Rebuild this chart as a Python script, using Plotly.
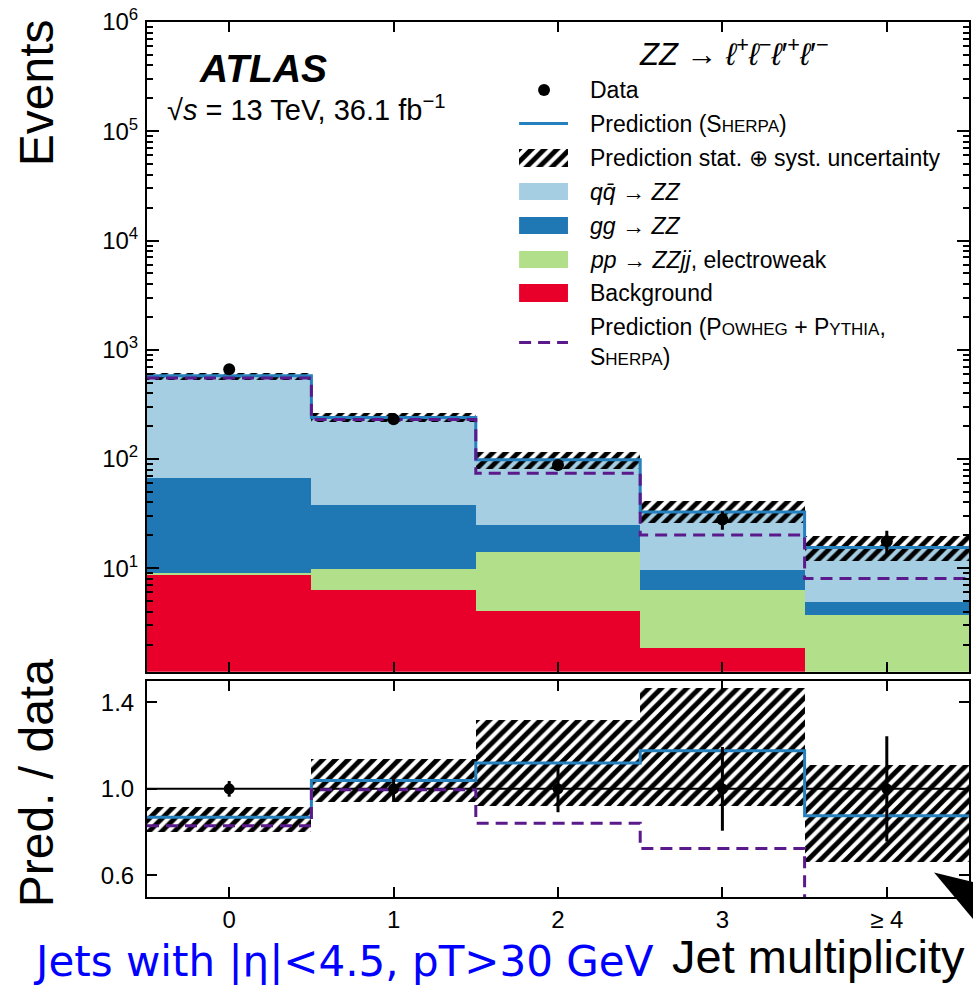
import numpy as np
import plotly.graph_objects as go

# ---------------- data ----------------
jet_n = [0, 1, 2, 3, 4]
jet_labels = ["0", "1", "2", "3", "\u2265 4"]
data_events = [664, 231, 88, 27.9, 17.7]
data_err = [24, 13, 9.5, 5.4, 4.3]
background = [8.6, 6.3, 4.1, 1.88, 0.3]
ew_zzjj = [0.46, 3.56, 10.0, 4.42, 3.41]
gg_zz = [58.6, 28.1, 10.7, 3.4, 1.19]
qq_zz = [509, 202, 73.7, 23.1, 10.6]
unc_lo = [531, 217, 81, 25.7, 11.7]
unc_hi = [609, 263, 116, 41, 19.7]
powheg = [551, 230, 74, 20.2, 8.05]

# ---------------- colours ----------------
RED = "#e8002b"
GREEN = "#b2df8a"
DBLUE = "#1f78b4"
LBLUE = "#a6cee3"
LINEBLUE = "#2580bd"
PURPLE = "#5b1a8b"

W, H = 974, 985
L, R, T, B = 147, 971, 22, 897


def px(x):
    return (x - L) / (R - L)


def py(y):
    return (B - y) / (B - T)


bkg = np.array(background, float)
ew = np.array(ew_zzjj, float)
gg = np.array(gg_zz, float)
qq = np.array(qq_zz, float)
dat = np.array(data_events, float)
derr = np.array(data_err, float)
lo = np.array(unc_lo, float)
hi = np.array(unc_hi, float)
pw = np.array(powheg, float)
total = bkg + ew + gg + qq
edges = np.arange(-0.5, 5.0, 1.0)

fig = go.Figure()

# stacked components
base = np.zeros(5)
for vals, col in [(bkg, RED), (ew, GREEN), (gg, DBLUE), (qq, LBLUE)]:
    kw = {} if base.sum() == 0 else {"base": base.copy()}
    fig.add_trace(go.Bar(x=jet_n, y=vals, width=1, marker=dict(color=col, line=dict(width=0)),
                         xaxis="x", yaxis="y", hoverinfo="skip", **kw))
    base = base + vals

hatch = dict(shape="/", fgcolor="#000000", bgcolor="rgba(0,0,0,0)", size=9, solidity=0.55,
             fgopacity=1, fillmode="replace")
fig.add_trace(go.Bar(x=jet_n, y=hi - lo, base=lo, width=1,
                     marker=dict(color="rgba(0,0,0,0)", line=dict(width=0), pattern=hatch),
                     xaxis="x", yaxis="y"))
fig.add_trace(go.Scatter(x=edges, y=np.append(total, total[-1]), mode="lines",
                         line=dict(shape="hv", color=LINEBLUE, width=3), xaxis="x", yaxis="y"))
fig.add_trace(go.Scatter(x=edges, y=np.append(pw, pw[-1]), mode="lines",
                         line=dict(shape="hv", color=PURPLE, width=3, dash="12px,7px"),
                         xaxis="x", yaxis="y"))
fig.add_trace(go.Scatter(x=jet_n, y=dat, mode="markers",
                         marker=dict(color="black", size=12),
                         error_y=dict(type="data", array=derr, color="black", thickness=3, width=0),
                         xaxis="x", yaxis="y"))

# ratio panel
fig.add_trace(go.Bar(x=jet_n, y=(hi - lo) / dat, base=lo / dat, width=1,
                     marker=dict(color="rgba(0,0,0,0)", line=dict(width=0), pattern=hatch),
                     xaxis="x2", yaxis="y2"))
r_tot = total / dat
r_pw = pw / dat
fig.add_trace(go.Scatter(x=edges, y=np.append(r_tot, r_tot[-1]), mode="lines",
                         line=dict(shape="hv", color=LINEBLUE, width=3), xaxis="x2", yaxis="y2"))
fig.add_trace(go.Scatter(x=edges, y=np.append(r_pw, r_pw[-1]), mode="lines",
                         line=dict(shape="hv", color=PURPLE, width=3, dash="12px,7px"),
                         xaxis="x2", yaxis="y2"))
fig.add_trace(go.Scatter(x=jet_n, y=dat / dat, mode="markers",
                         marker=dict(color="black", size=11),
                         error_y=dict(type="data", array=derr / dat, color="black", thickness=3, width=0),
                         xaxis="x2", yaxis="y2"))

# legend hatch swatch on its own small hidden axis
fig.add_trace(go.Bar(x=[0], y=[1], width=1,
                     marker=dict(color="rgba(0,0,0,0)", line=dict(width=0), pattern=hatch),
                     xaxis="x3", yaxis="y3"))

axis_common = dict(showline=True, linewidth=2, linecolor="black", mirror="ticks",
                   ticks="inside", tickcolor="black", tickwidth=2, showgrid=False,
                   zeroline=False, tickfont=dict(size=24, family="Liberation Sans, Arial", color="black"))

main_bottom = py(671.7)
ratio_top = py(680.7)

fig.update_layout(
    width=W, height=H,
    margin=dict(l=L, r=W - R, t=T, b=H - B),
    plot_bgcolor="white", paper_bgcolor="white",
    barmode="overlay", showlegend=False, bargap=0,
    font=dict(family="Liberation Sans, Arial", color="black"),
    xaxis=dict(domain=[0, 1], anchor="y", range=[-0.5, 4.5], tickvals=jet_n,
               showticklabels=False, ticklen=10, **axis_common),
    yaxis=dict(domain=[main_bottom, 1], anchor="x", type="log", range=[np.log10(1.13), 6],
               tickvals=[1e1, 1e2, 1e3, 1e4, 1e5, 1e6],
               ticktext=["10<sup>%d</sup>" % k for k in range(1, 7)],
               ticklen=12, ticklabelstandoff=2,
               minor=dict(ticks="inside", ticklen=6, tickcolor="black", tickwidth=1.5, dtick="D1"),
               **axis_common),
    xaxis2=dict(domain=[0, 1], anchor="y2", range=[-0.5, 4.5], matches="x", tickvals=jet_n,
                ticktext=jet_labels, ticklen=10, **axis_common),
    yaxis2=dict(domain=[0, ratio_top], anchor="x2", range=[0.5, 1.5], tickvals=[0.6, 1.0, 1.4],
                ticktext=["0.6", "1.0", "1.4"], ticklen=10, ticklabelstandoff=6, **axis_common),
    xaxis3=dict(domain=[px(520), px(569)], anchor="y3", range=[-0.5, 0.5], visible=False, fixedrange=True),
    yaxis3=dict(domain=[py(167), py(149)], anchor="x3", range=[0, 1], visible=False, fixedrange=True),
)

shapes = [
    dict(type="line", xref="x2 domain", yref="y2", x0=0, x1=1, y0=1, y1=1,
         line=dict(color="black", width=2), layer="below"),
    # legend symbols
    dict(type="circle", xref="paper", yref="paper", x0=px(539), x1=px(551), y0=py(96), y1=py(84),
         fillcolor="black", line=dict(width=0)),
    dict(type="line", xref="paper", yref="paper", x0=px(520), x1=px(569), y0=py(123.5), y1=py(123.5),
         line=dict(color=LINEBLUE, width=3)),
    dict(type="line", xref="paper", yref="paper", x0=px(520), x1=px(569), y0=py(342.5), y1=py(342.5),
         line=dict(color=PURPLE, width=3, dash="12px,7px")),
    # arrow artefact in the corner
    dict(type="path", xref="paper", yref="paper",
         path="M %f %f L %f %f L %f %f Z" % (px(936), py(872.5), px(975), py(882), px(975), py(919)),
         fillcolor="black", line=dict(width=0)),
]
for (y0, y1, col) in [(183, 200, LBLUE), (217, 234, DBLUE), (251, 268, GREEN), (284, 302, RED)]:
    shapes.append(dict(type="rect", xref="paper", yref="paper", x0=px(520), x1=px(569),
                       y0=py(y1), y1=py(y0), fillcolor=col, line=dict(width=0)))
fig.update_layout(shapes=shapes)

sc = lambda s: '<span style="font-size:17px">%s</span>' % s
ann = []


def add(text, x, y, size, xanchor="left", angle=0, family="Liberation Sans, Arial", color="black"):
    ann.append(dict(text=text, x=px(x), y=py(y), xref="paper", yref="paper", showarrow=False,
                    xanchor=xanchor, yanchor="middle", textangle=angle, align="left",
                    font=dict(size=size, family=family, color=color)))


NB = "\u00a0"
add("<b><i>ATLAS</i></b>", 197, 68, 39)
add("\u221a<i>s</i>" + NB + "=" + NB + "13 TeV, 36.1 fb<sup>\u22121</sup>", 165, 108, 29)
add("Events", 36, 93, 48, xanchor="center", angle=-90)
add("Pred. / data", 36, 783, 48, xanchor="center", angle=-90)
add("<i>ZZ</i> \u2192 <i>\u2113</i><sup>+</sup><i>\u2113</i><sup>\u2212</sup><i>\u2113</i>\u2032<sup>+</sup><i>\u2113</i>\u2032<sup>\u2212</sup>",
    735, 52, 31, xanchor="center")
add("Data", 589, 90, 23)
add("Prediction (S%s)" % sc("HERPA"), 589, 124, 23)
add("Prediction stat. \u2295 syst. uncertainty", 589, 158, 23)
add("<i>qq\u0304</i> \u2192 <i>ZZ</i>", 589, 192, 23)
add("<i>gg</i> \u2192 <i>ZZ</i>", 589, 226, 23)
add("<i>pp</i> \u2192 <i>ZZjj</i>, electroweak", 589, 260, 23)
add("Background", 589, 293, 23)
add("Prediction (P%s + P%s,<br>S%s)" % (sc("OWHEG"), sc("YTHIA"), sc("HERPA")), 589, 342, 23)
add("Jets with |\u03b7|<4.5, pT>30 GeV", 31, 961, 42, family="DejaVu Sans", color="#0000ff")
add("Jet multiplicity", 969, 956, 47, xanchor="right")
fig.update_layout(annotations=ann)

fig.write_html("out.html", config={"displayModeBar": False},
               post_script="document.body.style.margin='0px';")
